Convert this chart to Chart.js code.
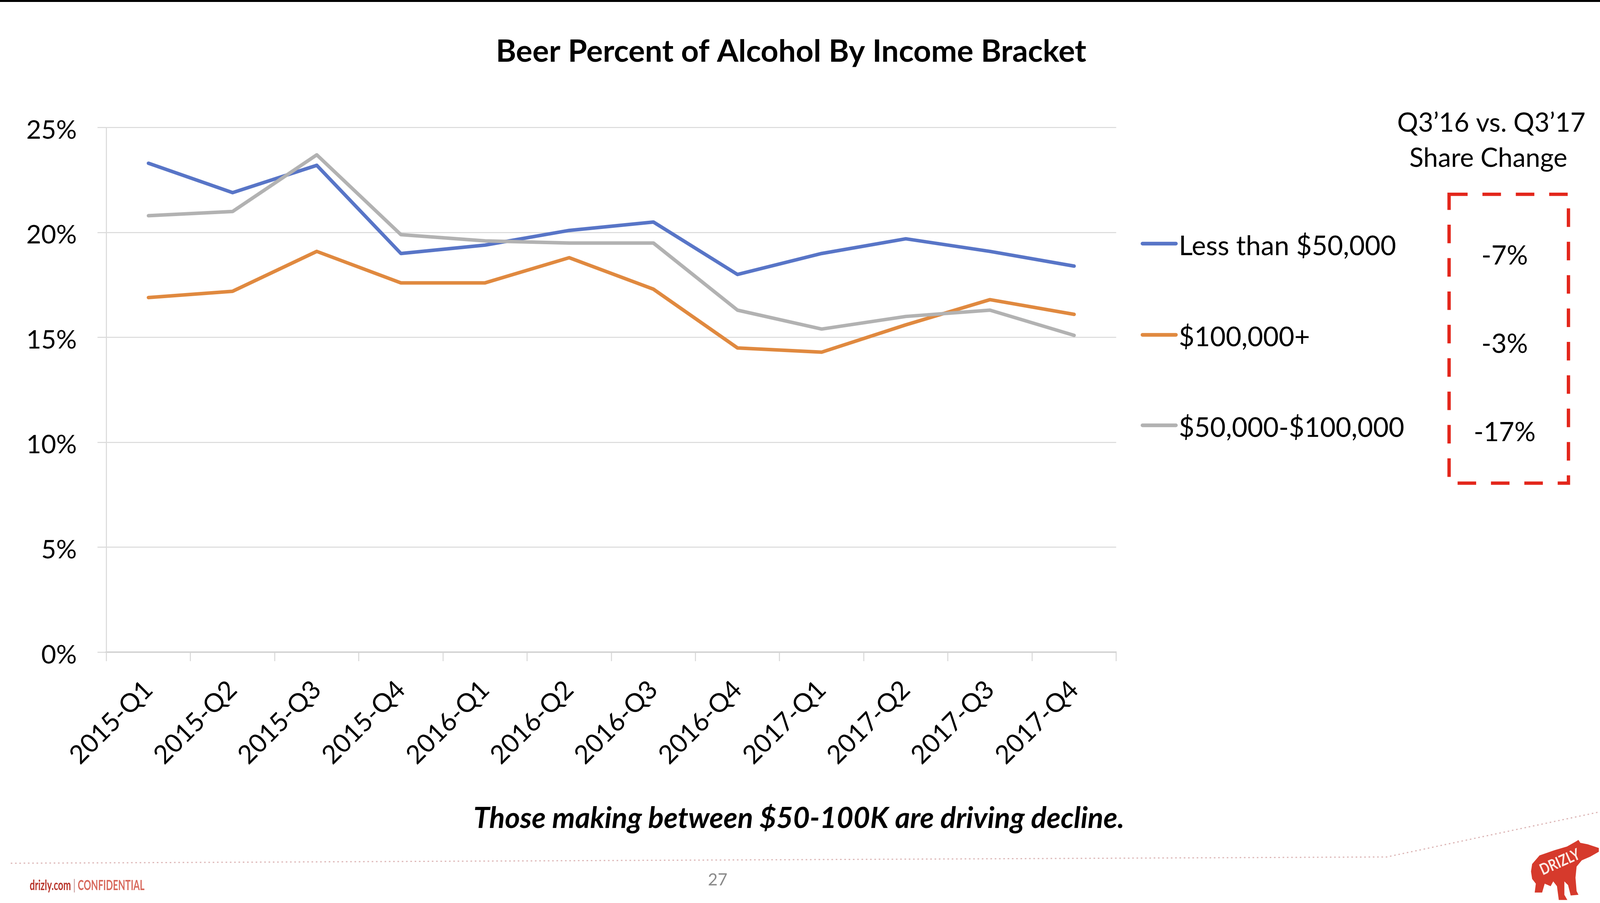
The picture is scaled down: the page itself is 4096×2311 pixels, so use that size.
<!DOCTYPE html>
<html lang="en">
<head>
  <meta charset="UTF-8">
  <title>Beer Percent of Alcohol By Income Bracket</title>
  <script src="https://cdn.jsdelivr.net/npm/chart.js@4.4.1/dist/chart.umd.min.js"></script>
  <style>
    html, body { margin: 0; padding: 0; background: #fff; }
    #chart { display: block; }
  </style>
</head>
<body>
  <canvas id="chart" width="4096" height="2311"></canvas>

  <script>
    // values (percent of alcohol orders that are beer)
    const quarters = ["2015-Q1", "2015-Q2", "2015-Q3", "2015-Q4", "2016-Q1", "2016-Q2",
                      "2016-Q3", "2016-Q4", "2017-Q1", "2017-Q2", "2017-Q3", "2017-Q4"];
    const lessThan50k = [23.3, 21.9, 23.2, 19.0, 19.4, 20.1, 20.5, 18.0, 19.0, 19.7, 19.1, 18.4];
    const over100k    = [16.9, 17.2, 19.1, 17.6, 17.6, 18.8, 17.3, 14.5, 14.3, 15.6, 16.8, 16.1];
    const mid50to100k = [20.8, 21.0, 23.7, 19.9, 19.6, 19.5, 19.5, 16.3, 15.4, 16.0, 16.3, 15.1];
    const seriesNames = ["Less than $50,000", "$100,000+", "$50,000-$100,000"];
    const shareChange = ["-7%", "-3%", "-17%"];
    const yTicks = [0, 5, 10, 15, 20, 25];

    // everything below is laid out in reference pixels and scaled to the window
    const S = 0.949;
    const FONT = "Lato, 'Open Sans', sans-serif";
    const BLUE = "#5875c7", ORANGE = "#e0893f", GRAY = "#b2b2b2";

    const extras = {
      id: "extras",
      beforeDraw(chart) {
        const c = chart.ctx;
        c.save();
        c.fillStyle = "#fff";
        c.fillRect(0, 0, chart.width, chart.height);
        c.fillStyle = "#000";
        c.fillRect(0, 0, chart.width, 5);
        c.restore();
      },
      afterDraw(chart) {
        const c = chart.ctx;
        c.save();

        // title
        c.fillStyle = "#000";
        c.textAlign = "center";
        c.textBaseline = "alphabetic";
        c.font = `bold ${79}px ${FONT}`;
        c.fillText("Beer Percent of Alcohol By Income Bracket", 2134 * S, 167 * S);

        // legend
        const legY = [657, 903, 1147];
        c.textAlign = "left";
        c.font = `${69}px ${FONT}`;
        chart.data.datasets.forEach((ds, i) => {
          c.strokeStyle = ds.borderColor;
          c.lineWidth = 10 * S;
          c.lineCap = "round";
          c.beginPath();
          c.moveTo(3082 * S, legY[i] * S);
          c.lineTo(3172 * S, legY[i] * S);
          c.stroke();
          c.fillStyle = "#000";
          c.fillText(ds.label, 3180 * S, (legY[i] + 31) * S);
        });

        // share change header
        c.textAlign = "center";
        c.font = `${67}px ${FONT}`;
        c.fillText("Q3\u201916 vs. Q3\u201917", 4023 * S, 355 * S);
        c.fillText("Share Change", 4015 * S, 450 * S);

        // dashed red box
        c.strokeStyle = "#e3261b";
        c.lineWidth = 9 * S;
        c.lineCap = "butt";
        c.setLineDash([50 * S, 40 * S]);
        c.strokeRect(3909 * S, 524 * S, 322 * S, 779 * S);
        c.setLineDash([]);

        const valY = [713, 952, 1190];
        c.fillStyle = "#000";
        c.font = `${68}px ${FONT}`;
        shareChange.forEach((t, i) => c.fillText(t, 4059 * S, valY[i] * S));

        // takeaway line
        c.font = `italic bold ${74}px ${FONT}`;
        c.fillText("Those making between $50-100K are driving decline.", 2155 * S, 2233 * S);

        // footer dotted rule
        c.strokeStyle = "#dcb5b5";
        c.lineWidth = 3;
        c.setLineDash([4, 7]);
        c.beginPath();
        c.moveTo(29 * S, 2328 * S);
        c.lineTo(3741 * S, 2311 * S);
        c.lineTo(4313 * S, 2190 * S);
        c.stroke();
        c.setLineDash([]);

        // page number
        c.fillStyle = "#8a8a8a";
        c.font = `${43}px ${FONT}`;
        c.fillText("27", 1936 * S, 2388 * S);

        // drizly.com | CONFIDENTIAL
        c.save();
        c.translate(80 * S, 2400 * S);
        c.scale(0.65, 1);
        c.textAlign = "left";
        c.font = `bold ${36}px ${FONT}`;
        c.fillStyle = "#b8342a";
        c.fillText("drizly.com", 0, 0);
        let w = c.measureText("drizly.com ").width;
        c.fillStyle = "#c9a0a0";
        c.fillText("|", w, 0);
        w += c.measureText("| ").width;
        c.fillStyle = "#d8695c";
        c.fillText("CONFIDENTIAL", w, 0);
        c.restore();

        // bear logo
        const bear = [[4130, 2350], [4133, 2330], [4153, 2307], [4193, 2293], [4227, 2283], [4250, 2270],
          [4258, 2265], [4263, 2273], [4283, 2277], [4313, 2287], [4313, 2297], [4290, 2310], [4267, 2320],
          [4253, 2337], [4250, 2367], [4253, 2403], [4258, 2413], [4237, 2415], [4230, 2387], [4220, 2377],
          [4220, 2413], [4228, 2427], [4205, 2427], [4200, 2390], [4190, 2377], [4183, 2390], [4167, 2383],
          [4160, 2407], [4140, 2407], [4143, 2383], [4133, 2370]];
        c.fillStyle = "#d63a2c";
        c.beginPath();
        bear.forEach(([x, y], i) => i ? c.lineTo(x * S, y * S) : c.moveTo(x * S, y * S));
        c.closePath();
        c.fill();
        c.save();
        c.translate(4208 * S, 2325 * S);
        c.rotate(-0.42);
        c.scale(0.8, 1);
        c.fillStyle = "#fbe9e4";
        c.textAlign = "center";
        c.textBaseline = "middle";
        c.font = `bold ${40}px ${FONT}`;
        c.fillText("DRIZLY", 0, 0);
        c.restore();

        c.restore();
      }
    };

    const line = (label, data, color, order) => ({
      label, data, order,
      borderColor: color,
      backgroundColor: color,
      borderWidth: 9,
      borderCapStyle: "round",
      borderJoinStyle: "round",
      tension: 0,
      pointRadius: 0,
      fill: false
    });

    new Chart(document.getElementById("chart"), {
      type: "line",
      data: {
        labels: quarters,
        datasets: [
          line(seriesNames[0], lessThan50k, BLUE, 3),
          line(seriesNames[1], over100k, ORANGE, 2),
          line(seriesNames[2], mid50to100k, GRAY, 1)
        ]
      },
      options: {
        responsive: false,
        animation: false,
        devicePixelRatio: 1,
        layout: { padding: { left: 0, top: 344 * S, right: 4096 - 3011 * S, bottom: 2311 - 1759 * S - 400 } },
        plugins: {
          legend: { display: false },
          title: { display: false },
          tooltip: { enabled: false }
        },
        scales: {
          x: {
            offset: true,
            grid: { offset: true, drawOnChartArea: false, tickLength: 24 * S, color: "#d9d9d9", lineWidth: 2.6 },
            border: { color: "#d4d4d4", width: 4 },
            ticks: {
              autoSkip: false, minRotation: 45, maxRotation: 45, padding: 34,
              color: "#000", font: { family: FONT, size: 66 }
            },
            afterFit(scale) { scale.height = 400; }
          },
          y: {
            min: 0, max: 25,
            afterBuildTicks(scale) { scale.ticks = yTicks.map(v => ({ value: v })); },
            grid: { tickLength: 24 * S, color: "#d9d9d9", lineWidth: 2.6 },
            border: { color: "#d9d9d9", width: 2.6 },
            ticks: {
              padding: 53, labelOffset: 7, color: "#000", font: { family: FONT, size: 66 },
              callback: v => v + "%"
            },
            afterFit(scale) { scale.width = 287 * S; }
          }
        }
      },
      plugins: [extras]
    });
  </script>
</body>
</html>
